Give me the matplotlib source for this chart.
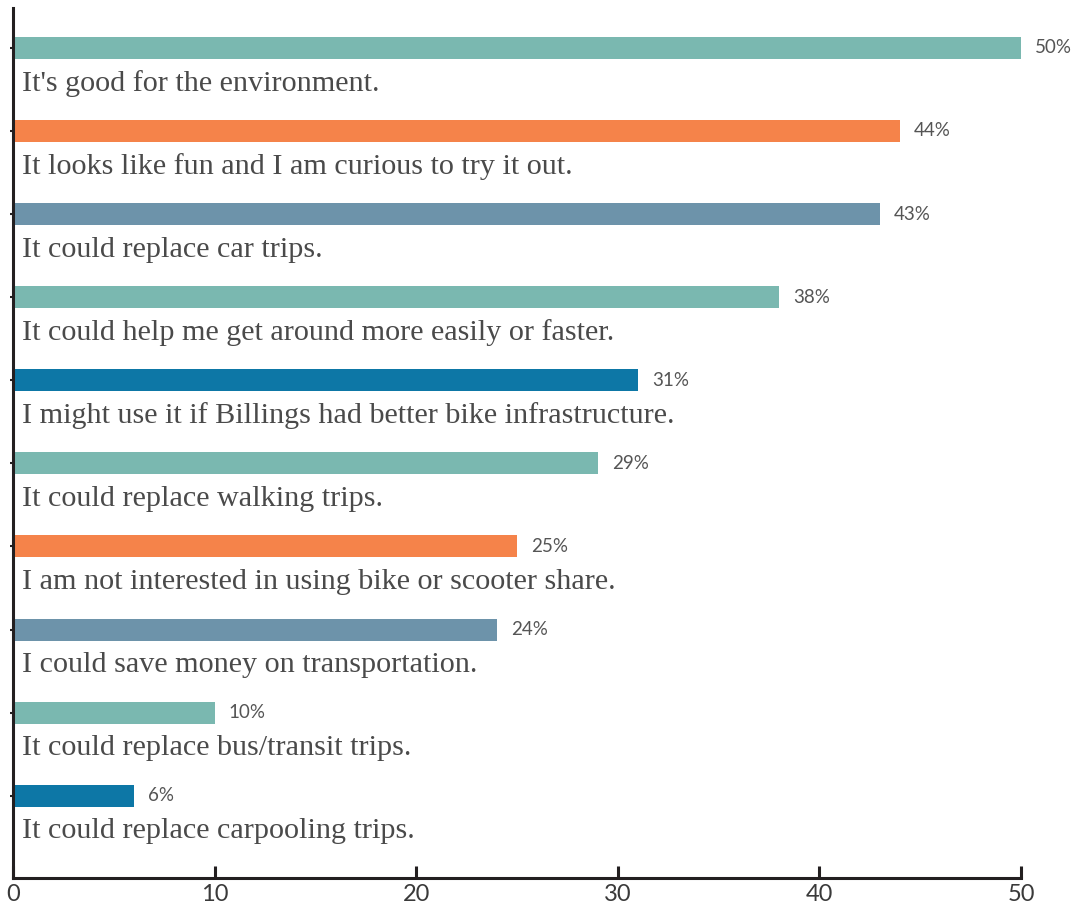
import matplotlib
matplotlib.use("Agg")
import matplotlib.pyplot as plt

# survey answers, top to bottom
reasons = [
    "It's good for the environment.",
    "It looks like fun and I am curious to try it out.",
    "It could replace car trips.",
    "It could help me get around more easily or faster.",
    "I might use it if Billings had better bike infrastructure.",
    "It could replace walking trips.",
    "I am not interested in using bike or scooter share.",
    "I could save money on transportation.",
    "It could replace bus/transit trips.",
    "It could replace carpooling trips.",
]
percents = [50, 44, 43, 38, 31, 29, 25, 24, 10, 6]

teal, orange, slate, blue = "#7ab8b0", "#f5834a", "#6d93aa", "#0d77a6"
colors = [teal, orange, slate, teal, blue, teal, orange, slate, teal, blue]

fig = plt.figure(figsize=(10.92, 9.07), dpi=100)
ax = fig.add_axes([13 / 1092, 29 / 907, 1008 / 1092, 870 / 907])

ypos = list(range(len(reasons)))
ax.barh(ypos, percents, height=0.265, color=colors)

for y, p, txt in zip(ypos, percents, reasons):
    ax.text(p + 0.7, y, f"{p}%", va="center", ha="left", fontsize=13.5,
            family="Lato", color="#555555", clip_on=False)
    ax.text(0.45, y + 0.43, txt, va="center", ha="left", fontsize=21.7,
            family="Liberation Serif", color="#4a4a4a")

ax.set_xlim(0, 50)
ax.set_ylim(9.99, -0.48)
ax.set_xticks([0, 10, 20, 30, 40, 50])
ax.set_yticks(ypos)
ax.set_yticklabels([])

for side in ("top", "right"):
    ax.spines[side].set_visible(False)
for side in ("left", "bottom"):
    ax.spines[side].set_linewidth(2.2)
    ax.spines[side].set_color("#231f20")

ax.tick_params(axis="x", direction="in", length=9, width=2.2, color="#231f20",
               pad=4, labelsize=17, labelcolor="#3a3a3a")
ax.tick_params(axis="y", direction="out", length=2, width=1.5, color="#231f20")
for lab in ax.get_xticklabels():
    lab.set_family("Lato")

fig.savefig("out.png", dpi=100)
